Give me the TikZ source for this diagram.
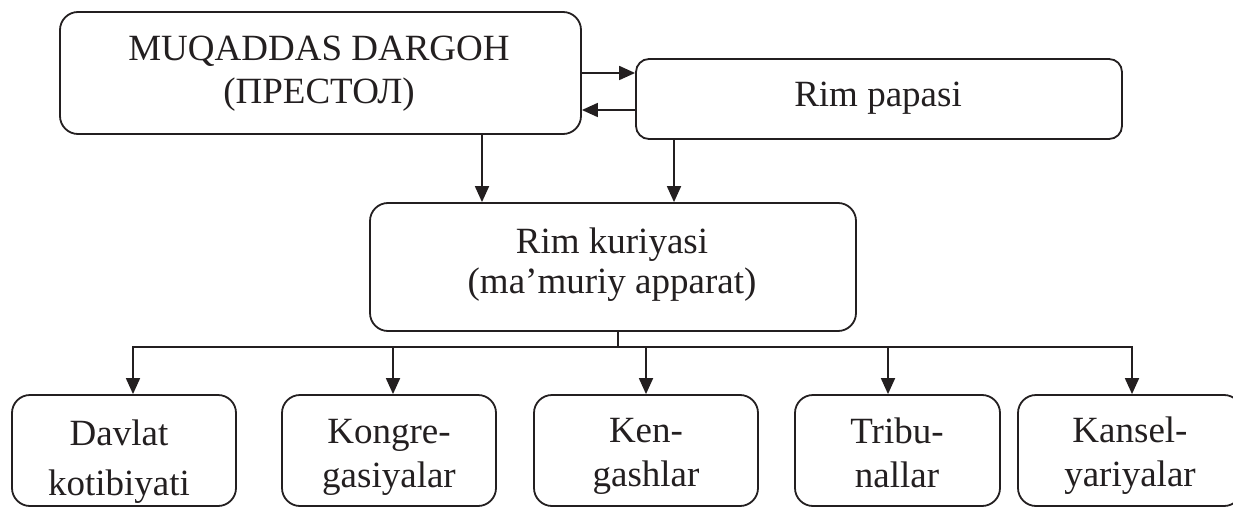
\documentclass[tikz,border=0pt]{standalone}
\usepackage{fontspec}
\setmainfont{Liberation Serif}
\usetikzlibrary{arrows.meta,calc}
\definecolor{ink}{RGB}{35,31,32}
\begin{document}
\begin{tikzpicture}[x=1pt,y=-1pt,
  box/.style={draw=ink, line width=1.8pt, rounded corners=18pt, inner sep=0pt},
  txt/.style={text=ink, align=center, inner sep=0pt, font=\fontsize{37}{44}\selectfont},
  conn/.style={draw=ink, line width=1.8pt},
  arr/.style={draw=ink, line width=1.8pt, -{Triangle[length=16pt,width=14pt]}}]
\useasboundingbox (0,0) rectangle (1233,508);
% boxes
\node[box, minimum width=521pt, minimum height=122pt] (top) at (320.5,73) {};
\node[txt, font=\fontsize{37}{43}\selectfont] (topt) at (319,74) {MUQADDAS DARGOH\\(ПРЕСТОЛ)};
\node[box, rounded corners=13pt, minimum width=486pt, minimum height=80pt] (papa) at (879,99) {};
\node[txt] (papat) at (878,98.5) {Rim papasi};
\node[box, minimum width=486pt, minimum height=128pt] (kur) at (613,267) {};
\node[txt, font=\fontsize{37}{40}\selectfont] (kurt) at (612,264.5) {Rim kuriyasi\\(ma’muriy apparat)};
\node[box, minimum width=224pt, minimum height=111pt] (b1) at (124,450.5) {};
\node[box, minimum width=214pt, minimum height=111pt] (b2) at (389,450.5) {};
\node[box, minimum width=224pt, minimum height=111pt] (b3) at (646,450.5) {};
\node[box, minimum width=205pt, minimum height=111pt] (b4) at (897.5,450.5) {};
\node[box, minimum width=224pt, minimum height=111pt] (b5) at (1130,450.5) {};
\node[txt, font=\fontsize{37}{50}\selectfont] (b1t) at (119,461.4) {Davlat\\kotibiyati};
\node[txt] (b2t) at (389,457.5) {Kongre-\\gasiyalar};
\node[txt] (b3t) at (646,456.5) {Ken-\\gashlar};
\node[txt] (b4t) at (897,452.4) {Tribu-\\nallar};
\node[txt] (b5t) at (1130,455.8) {Kansel-\\yariyalar};
% connectors top
\draw[arr] (top.east) -- (top.east -| papa.west);
\draw[arr] ([yshift=-11pt]papa.west) -- ([yshift=-11pt]papa.west -| top.east);
\draw[arr] ([xshift=161.5pt]top.south) -- ([xshift=161.5pt]top.south |- kur.north);
\draw[arr] ([xshift=-205pt]papa.south) -- ([xshift=-205pt]papa.south |- kur.north);
% bus
\coordinate (bus) at (618,347);
\coordinate (a1) at (133,347);
\coordinate (a2) at (393,347);
\coordinate (a3) at (646,347);
\coordinate (a4) at (888,347);
\coordinate (a5) at (1132,347);
\draw[conn] (bus |- kur.south) -- (bus);
\draw[conn, line cap=rect] (a1) -- (a5);
\draw[arr] (a1) -- (a1 |- b1.north);
\draw[arr] (a2) -- (a2 |- b2.north);
\draw[arr] (a3) -- (a3 |- b3.north);
\draw[arr] (a4) -- (a4 |- b4.north);
\draw[arr] (a5) -- (a5 |- b5.north);
\end{tikzpicture}
\end{document}
